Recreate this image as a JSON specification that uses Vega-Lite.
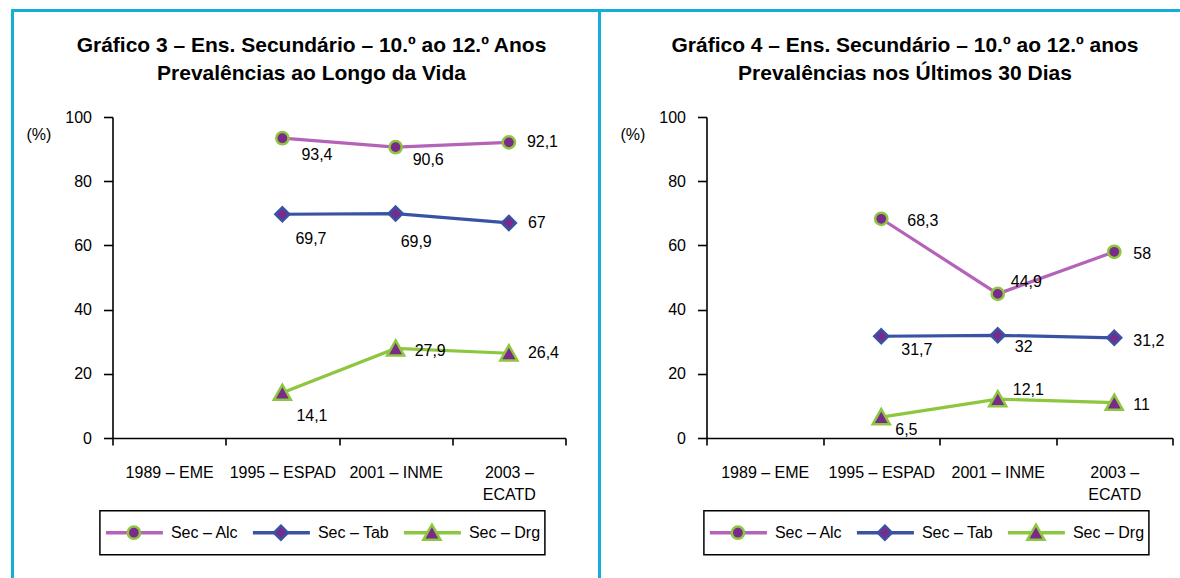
{
  "$schema": "https://vega.github.io/schema/vega-lite/v6.json",
  "padding": {"left": 11, "top": 9, "right": 0, "bottom": 0},
  "background": "white",
  "config": {
    "font": "Liberation Sans",
    "view": {"stroke": null},
    "locale": {"number": {"decimal": ",", "thousands": ".", "grouping": [3], "currency": ["", " €"]}},
    "axis": {"labelFontSize": 16, "labelColor": "black", "domainColor": "black", "tickColor": "black", "domainWidth": 1.6, "tickWidth": 1.6, "grid": false, "titleFontSize": 16, "titleFontWeight": "normal", "titleColor": "black"},
    "legend": {"labelFontSize": 16, "labelColor": "black"}
  },
  "datasets": {
    "vida": [
      {"ano": "1995 – ESPAD", "serie": "Sec – Alc", "valor": 93.4},
      {"ano": "2001 – INME", "serie": "Sec – Alc", "valor": 90.6},
      {"ano": "2003 – ECATD", "serie": "Sec – Alc", "valor": 92.1},
      {"ano": "1995 – ESPAD", "serie": "Sec – Tab", "valor": 69.7},
      {"ano": "2001 – INME", "serie": "Sec – Tab", "valor": 69.9},
      {"ano": "2003 – ECATD", "serie": "Sec – Tab", "valor": 67},
      {"ano": "1995 – ESPAD", "serie": "Sec – Drg", "valor": 14.1},
      {"ano": "2001 – INME", "serie": "Sec – Drg", "valor": 27.9},
      {"ano": "2003 – ECATD", "serie": "Sec – Drg", "valor": 26.4}
    ],
    "dias": [
      {"ano": "1995 – ESPAD", "serie": "Sec – Alc", "valor": 68.3},
      {"ano": "2001 – INME", "serie": "Sec – Alc", "valor": 44.9},
      {"ano": "2003 – ECATD", "serie": "Sec – Alc", "valor": 58},
      {"ano": "1995 – ESPAD", "serie": "Sec – Tab", "valor": 31.7},
      {"ano": "2001 – INME", "serie": "Sec – Tab", "valor": 32},
      {"ano": "2003 – ECATD", "serie": "Sec – Tab", "valor": 31.2},
      {"ano": "1995 – ESPAD", "serie": "Sec – Drg", "valor": 6.5},
      {"ano": "2001 – INME", "serie": "Sec – Drg", "valor": 12.1},
      {"ano": "2003 – ECATD", "serie": "Sec – Drg", "valor": 11}
    ]
  },
  "spacing": 0,
  "vconcat": [
    {
      "width": 1169, "height": 3,
      "data": {"values": [{}]},
      "mark": {"type": "point", "opacity": 0, "size": 0},
      "encoding": {},
      "view": {"fill": "#12afd6", "stroke": null}
    },
    {
      "spacing": 31,
      "resolve": {"scale": {"color": "independent", "shape": "independent", "stroke": "independent"}, "legend": {"color": "independent", "shape": "independent", "stroke": "independent"}},
      "hconcat": [
        {
          "spacing": 11.5,
          "resolve": {"scale": {"color": "independent", "shape": "independent", "stroke": "independent"}, "legend": {"color": "independent", "shape": "independent", "stroke": "independent"}},
          "hconcat": [
            {
              "width": 3, "height": 566,
              "data": {"values": [{}]},
              "mark": {"type": "point", "opacity": 0, "size": 0},
              "encoding": {},
              "view": {"fill": "#12afd6", "stroke": null}
            },
            {
              "spacing": 22,
              "resolve": {"scale": {"color": "independent", "shape": "independent", "stroke": "independent"}, "legend": {"color": "independent", "shape": "independent", "stroke": "independent"}},
              "vconcat": [
                {
                  "width": 1, "height": 1,
                  "data": {"values": [{}]},
                  "mark": {"type": "point", "opacity": 0, "size": 0},
                  "encoding": {}
                },
                {
                  "width": 453, "height": 321,
                  "data": {"name": "vida"},
                  "title": {"text": "Gráfico 3 – Ens. Secundário – 10.º ao 12.º Anos", "subtitle": "Prevalências ao Longo da Vida", "frame": "group", "anchor": "middle", "dx": -27.5, "fontSize": 21, "fontWeight": "bold", "color": "black", "lineHeight": 23, "subtitleFontSize": 21, "subtitleFontWeight": "bold", "subtitleColor": "black", "subtitleLineHeight": 23, "subtitlePadding": 7, "offset": 25},
                  "encoding": {
                    "x": {"field": "ano", "type": "nominal", "title": null,
                      "scale": {"type": "band", "domain": ["1989 – EME", "1995 – ESPAD", "2001 – INME", "2003 – ECATD"], "paddingInner": 0, "paddingOuter": 0},
                      "axis": {"tickBand": "extent", "labelAngle": 0, "labelPadding": 19, "tickSize": 7, "labelLineHeight": 22, "labelExpr": "datum.value == '2003 – ECATD' ? ['2003 –', 'ECATD'] : datum.label"}},
                    "y": {"field": "valor", "type": "quantitative", "title": "(%)",
                      "scale": {"domain": [0, 100]},
                      "axis": {"values": [0, 20, 40, 60, 80, 100], "tickSize": 9, "labelPadding": 12, "titleAngle": 0, "titleAlign": "left", "titleBaseline": "middle", "titleX": -86.6, "titleY": 17}}
                  },
                  "layer": [
                    {
                      "mark": {"type": "line", "strokeWidth": 3.2},
                      "encoding": {
                        "color": {"field": "serie", "type": "nominal", "sort": ["Sec – Alc", "Sec – Tab", "Sec – Drg"],
                          "scale": {"range": ["#b463b8", "#3953a4", "#8dc63f"]},
                          "legend": {"orient": "none", "legendX": -12.6, "legendY": 393.7, "direction": "horizontal", "title": null, "symbolType": "M-1,0L1,0", "symbolSize": 3249, "symbolStrokeWidth": 3.5, "symbolFillColor": "transparent", "clipHeight": 35.6, "labelOffset": 6, "columnPadding": 12, "padding": 4, "strokeColor": "black", "labelFontSize": 16, "labelExpr": "datum.label == 'Sec – Drg' ? datum.label + ' ' : datum.label", "encode": {"legend": {"update": {"strokeWidth": {"value": 1.5}}}, "symbols": {"update": {"fill": {"value": "transparent"}}}}}}
                      }
                    },
                    {
                      "mark": {"type": "point", "filled": true, "fill": "#7a2a8a", "size": 3249, "strokeWidth": 2.5, "opacity": 1},
                      "encoding": {
                        "shape": {"field": "serie", "type": "nominal",
                          "scale": {"domain": ["Sec – Alc", "Sec – Tab", "Sec – Drg"], "range": ["M-1,0L-1,0M1,0L1,0M0.215,0A0.215,0.215,0,1,1,-0.215,0A0.215,0.215,0,1,1,0.215,0Z", "M-1,0L-1,0M1,0L1,0M0,-0.245L0.245,0L0,0.245L-0.245,0Z", "M-1,0L-1,0M1,0L1,0M0,-0.28L0.3,0.25L-0.3,0.25Z"]},
                          "legend": {"orient": "none", "legendX": -12.6, "legendY": 393.7, "direction": "horizontal", "title": null, "symbolSize": 3249, "symbolStrokeWidth": 2.5, "symbolFillColor": "#7a2a8a", "clipHeight": 35.6, "labelOffset": 7, "columnPadding": 12, "padding": 4, "labelColor": "transparent", "labelFontSize": 16, "zindex": 5, "labelExpr": "datum.label == 'Sec – Drg' ? datum.label + ' ' : datum.label", "encode": {"symbols": {"update": {"fill": {"value": "#7a2a8a"}}}}}},
                        "stroke": {"field": "serie", "type": "nominal",
                          "scale": {"domain": ["Sec – Alc", "Sec – Tab", "Sec – Drg"], "range": ["#8dc63f", "#3953a4", "#8dc63f"]}}
                      }
                    },
                    {
                      "mark": {"type": "text", "align": "left", "baseline": "middle", "fontSize": 16, "fill": "black",
                        "dx": {"expr": "[19,17,18,13,5,19,14,19,19][indexof(['Sec – Alc','Sec – Tab','Sec – Drg'], datum.serie)*3 + indexof(['1995 – ESPAD','2001 – INME','2003 – ECATD'], datum.ano)]"},
                        "dy": {"expr": "[17,13,0,25,28,0,23,3,0][indexof(['Sec – Alc','Sec – Tab','Sec – Drg'], datum.serie)*3 + indexof(['1995 – ESPAD','2001 – INME','2003 – ECATD'], datum.ano)]"}},
                      "encoding": {"text": {"field": "valor", "type": "quantitative", "format": ".1~f"}}
                    }
                  ]
                }
              ]
            }
          ]
        },
        {
          "spacing": 18.5,
          "resolve": {"scale": {"color": "independent", "shape": "independent", "stroke": "independent"}, "legend": {"color": "independent", "shape": "independent", "stroke": "independent"}},
          "hconcat": [
            {
              "width": 3, "height": 566,
              "data": {"values": [{}]},
              "mark": {"type": "point", "opacity": 0, "size": 0},
              "encoding": {},
              "view": {"fill": "#12afd6", "stroke": null}
            },
            {
              "spacing": 22,
              "resolve": {"scale": {"color": "independent", "shape": "independent", "stroke": "independent"}, "legend": {"color": "independent", "shape": "independent", "stroke": "independent"}},
              "vconcat": [
                {
                  "width": 1, "height": 1,
                  "data": {"values": [{}]},
                  "mark": {"type": "point", "opacity": 0, "size": 0},
                  "encoding": {}
                },
                {
                  "width": 466, "height": 321,
                  "data": {"name": "dias"},
                  "title": {"text": "Gráfico 4 – Ens. Secundário – 10.º ao 12.º anos", "subtitle": "Prevalências nos Últimos 30 Dias", "frame": "group", "anchor": "middle", "dx": -34.5, "fontSize": 21, "fontWeight": "bold", "color": "black", "lineHeight": 23, "subtitleFontSize": 21, "subtitleFontWeight": "bold", "subtitleColor": "black", "subtitleLineHeight": 23, "subtitlePadding": 7, "offset": 25},
                  "encoding": {
                    "x": {"field": "ano", "type": "nominal", "title": null,
                      "scale": {"type": "band", "domain": ["1989 – EME", "1995 – ESPAD", "2001 – INME", "2003 – ECATD"], "paddingInner": 0, "paddingOuter": 0},
                      "axis": {"tickBand": "extent", "labelAngle": 0, "labelPadding": 19, "tickSize": 7, "labelLineHeight": 22, "labelExpr": "datum.value == '2003 – ECATD' ? ['2003 –', 'ECATD'] : datum.label"}},
                    "y": {"field": "valor", "type": "quantitative", "title": "(%)",
                      "scale": {"domain": [0, 100]},
                      "axis": {"values": [0, 20, 40, 60, 80, 100], "tickSize": 9, "labelPadding": 12, "titleAngle": 0, "titleAlign": "left", "titleBaseline": "middle", "titleX": -86.6, "titleY": 17}}
                  },
                  "layer": [
                    {
                      "mark": {"type": "line", "strokeWidth": 3.2},
                      "encoding": {
                        "color": {"field": "serie", "type": "nominal", "sort": ["Sec – Alc", "Sec – Tab", "Sec – Drg"],
                          "scale": {"range": ["#b463b8", "#3953a4", "#8dc63f"]},
                          "legend": {"orient": "none", "legendX": -2.6, "legendY": 393.7, "direction": "horizontal", "title": null, "symbolType": "M-1,0L1,0", "symbolSize": 3249, "symbolStrokeWidth": 3.5, "symbolFillColor": "transparent", "clipHeight": 35.6, "labelOffset": 6, "columnPadding": 12, "padding": 4, "strokeColor": "black", "labelFontSize": 16, "labelExpr": "datum.label == 'Sec – Drg' ? datum.label + ' ' : datum.label", "encode": {"legend": {"update": {"strokeWidth": {"value": 1.5}}}, "symbols": {"update": {"fill": {"value": "transparent"}}}}}}
                      }
                    },
                    {
                      "mark": {"type": "point", "filled": true, "fill": "#7a2a8a", "size": 3249, "strokeWidth": 2.5, "opacity": 1},
                      "encoding": {
                        "shape": {"field": "serie", "type": "nominal",
                          "scale": {"domain": ["Sec – Alc", "Sec – Tab", "Sec – Drg"], "range": ["M-1,0L-1,0M1,0L1,0M0.215,0A0.215,0.215,0,1,1,-0.215,0A0.215,0.215,0,1,1,0.215,0Z", "M-1,0L-1,0M1,0L1,0M0,-0.245L0.245,0L0,0.245L-0.245,0Z", "M-1,0L-1,0M1,0L1,0M0,-0.28L0.3,0.25L-0.3,0.25Z"]},
                          "legend": {"orient": "none", "legendX": -2.6, "legendY": 393.7, "direction": "horizontal", "title": null, "symbolSize": 3249, "symbolStrokeWidth": 2.5, "symbolFillColor": "#7a2a8a", "clipHeight": 35.6, "labelOffset": 7, "columnPadding": 12, "padding": 4, "labelColor": "transparent", "labelFontSize": 16, "zindex": 5, "labelExpr": "datum.label == 'Sec – Drg' ? datum.label + ' ' : datum.label", "encode": {"symbols": {"update": {"fill": {"value": "#7a2a8a"}}}}}},
                        "stroke": {"field": "serie", "type": "nominal",
                          "scale": {"domain": ["Sec – Alc", "Sec – Tab", "Sec – Drg"], "range": ["#8dc63f", "#3953a4", "#8dc63f"]}}
                      }
                    },
                    {
                      "mark": {"type": "text", "align": "left", "baseline": "middle", "fontSize": 16, "fill": "black",
                        "dx": {"expr": "[26,13,19,20,17,19,14,15,19][indexof(['Sec – Alc','Sec – Tab','Sec – Drg'], datum.serie)*3 + indexof(['1995 – ESPAD','2001 – INME','2003 – ECATD'], datum.ano)]"},
                        "dy": {"expr": "[2,-12,2,14,12,3,13,-9,2][indexof(['Sec – Alc','Sec – Tab','Sec – Drg'], datum.serie)*3 + indexof(['1995 – ESPAD','2001 – INME','2003 – ECATD'], datum.ano)]"}},
                      "encoding": {"text": {"field": "valor", "type": "quantitative", "format": ".1~f"}}
                    }
                  ]
                }
              ]
            }
          ]
        }
      ]
    }
  ]
}
